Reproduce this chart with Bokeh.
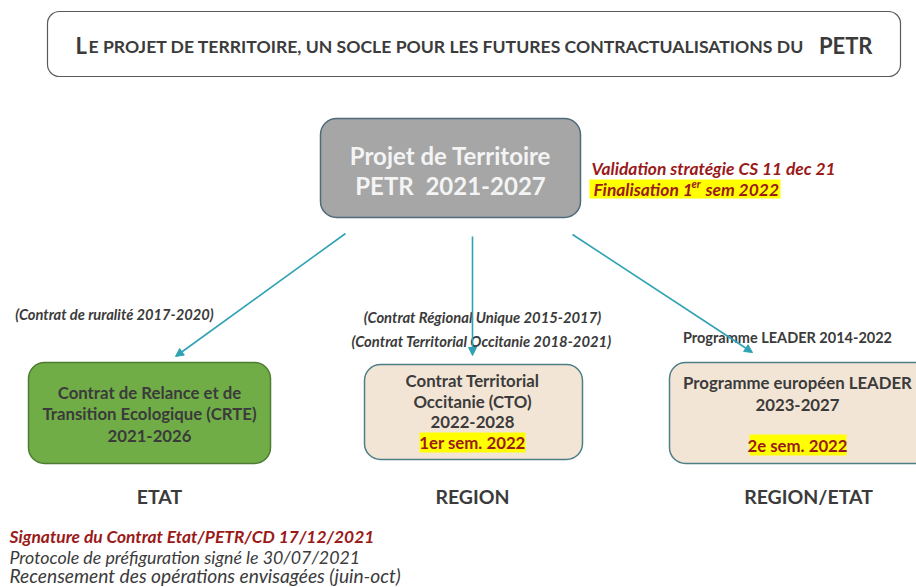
from bokeh.plotting import figure
from bokeh.models import Range1d, Arrow, NormalHead
from bokeh.core.properties import value
from bokeh.embed import file_html
from bokeh.resources import INLINE

FONT = "Lato"

# ---- texts / data ----
title_parts = ["L", "E PROJET DE TERRITOIRE, UN SOCLE POUR LES FUTURES CONTRACTUALISATIONS DU", "PETR"]
center_lines = ["Projet de Territoire", "PETR\u00a0 2021-2027"]
center_notes = ["Validation stratégie CS 11 dec 21", "Finalisation 1", "er", "sem 2022"]
branch_names = ["ETAT", "REGION", "REGION/ETAT"]
box_lines = [
    ["Contrat de Relance et de", "Transition Ecologique (CRTE)", "2021-2026"],
    ["Contrat Territorial", "Occitanie (CTO)", "2022-2028"],
    ["Programme européen LEADER", "2023-2027"],
]
box_dates = ["", "1er sem. 2022", "2e sem. 2022"]
previous_contracts = [
    ["(Contrat de ruralité 2017-2020)"],
    ["(Contrat Régional Unique 2015-2017)", "(Contrat Territorial Occitanie 2018-2021)"],
    ["Programme LEADER 2014-2022"],
]
etat_notes = [
    "Signature du Contrat Etat/PETR/CD 17/12/2021",
    "Protocole de préfiguration signé le 30/07/2021",
    "Recensement des opérations envisagées (juin-oct)",
]

# ---- layout (screen-like coordinates) ----
W, H = 916, 587
p = figure(width=W, height=H, output_backend="svg", toolbar_location=None,
           x_range=Range1d(0, 916), y_range=Range1d(587, 0), min_border=0)
p.xaxis.visible = False
p.yaxis.visible = False
p.grid.visible = False
p.outline_line_color = None
p.background_fill_color = "white"
p.border_fill_color = "white"

DARK = "#3b3b3b"
RED = "#9a1a1a"
TEAL = "#2fa3b4"
YEL = "#ffff00"


def txt(x, y, s, size, color=DARK, style="bold", align="center", baseline="middle"):
    p.text(x=[x], y=[y], text=[s], text_font=value(FONT), text_font_size=value(f"{size}px"),
           text_color=color, text_font_style=style, text_align=align, text_baseline=baseline)


def box(l, r, t, b, fill, line, radius=14, lw=1.5):
    p.quad(left=[l], right=[r], top=[t], bottom=[b], fill_color=fill, line_color=line,
           line_width=lw, border_radius=radius)


def hl(l, r, t, b):
    p.quad(left=[l], right=[r], top=[t], bottom=[b], fill_color=YEL, line_color=None)


# title box
box(47, 900, 11, 76, "white", "#5a5a5a", radius=12, lw=1.2)
txt(75, 45, title_parts[0], 22, align="left")
txt(88, 46, title_parts[1], 17.6, align="left")
txt(872, 45, title_parts[2], 22, align="right")

# central box
box(320, 580, 118, 217, "#a6a6a6", "#4d6b78", radius=16, lw=1.5)
txt(450, 155, center_lines[0], 24, color="#f4f4f4")
txt(450, 185, center_lines[1], 24, color="#f4f4f4")

# notes next to central box
txt(591, 168, center_notes[0], 17.4, color=RED, style="bold italic", align="left")
hl(589, 780, 179, 198)
txt(593, 189, center_notes[1], 17.4, color=RED, style="bold italic", align="left")
txt(691, 183, center_notes[2], 11, color=RED, style="bold italic", align="left")
txt(705, 189, center_notes[3], 17.4, color=RED, style="bold italic", align="left")

# arrows
for xs, ys, xe, ye in [(345, 233, 175, 356), (472, 236, 472, 355), (572, 234, 752, 352)]:
    p.add_layout(Arrow(end=NormalHead(size=8, fill_color=TEAL, line_color=TEAL),
                       x_start=xs, y_start=ys, x_end=xe, y_end=ye,
                       line_color=TEAL, line_width=1.6))

# previous contracts
txt(114, 313, previous_contracts[0][0], 14.7, style="bold italic")
txt(482, 316, previous_contracts[1][0], 14.8, style="bold italic")
txt(481, 340, previous_contracts[1][1], 14.8, style="bold italic")
txt(787, 337, previous_contracts[2][0], 14.5, style="bold")

# contract boxes
box(28, 270, 362, 463, "#70ad47", "#4e7c33", radius=16)
box(364, 582, 364, 459, "#f3e5d5", "#4d7f86", radius=16)
box(669, 930, 362, 463, "#f3e5d5", "#4d7f86", radius=16)

BS = 16.8
for y, s in zip([392, 413, 435], box_lines[0]):
    txt(149, y, s, BS)
for y, s in zip([380, 401, 421], box_lines[1]):
    txt(472, y, s, BS)
hl(419, 525, 432, 452)
txt(472, 442, box_dates[1], BS, color=RED)
for y, s in zip([382, 404], box_lines[2]):
    txt(797, y, s, BS)
hl(749, 846, 434, 455)
txt(797, 445, box_dates[2], BS, color=RED)

# branch labels
for x, s in zip([159, 472, 808], branch_names):
    txt(x, 496, s, 19.5)

# bottom notes
txt(9, 536, etat_notes[0], 17.4, color=RED, style="bold italic", align="left")
txt(9, 556, etat_notes[1], 17.8, color=DARK, style="italic", align="left")
txt(9, 575, etat_notes[2], 19.2, color=DARK, style="italic", align="left")

open("out.html", "w").write(file_html(p, INLINE))
